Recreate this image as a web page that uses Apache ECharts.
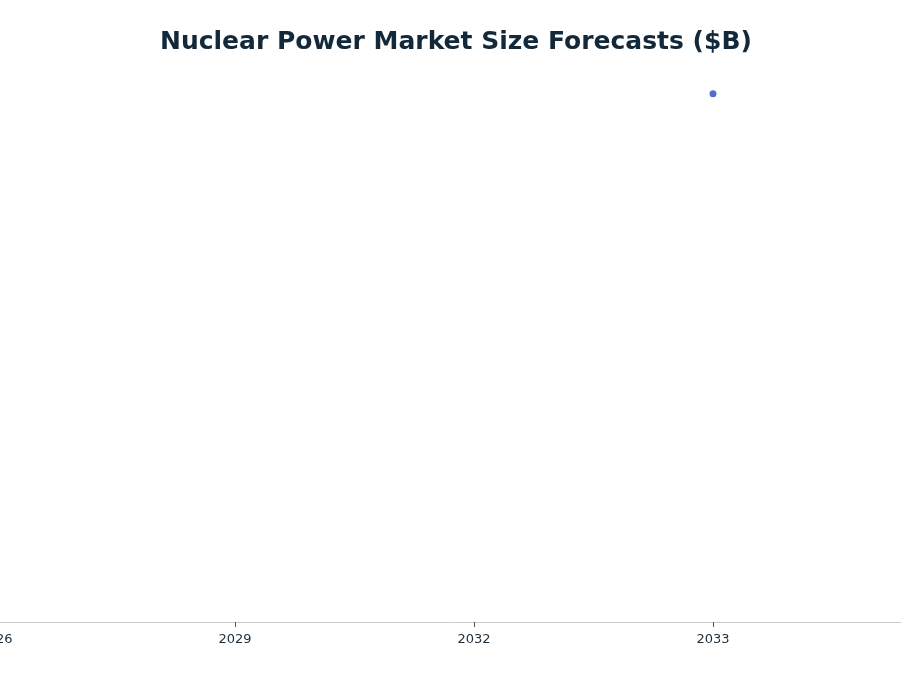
<!DOCTYPE html>
<html>
<head>
<meta charset="utf-8">
<script src="https://cdn.jsdelivr.net/npm/echarts@6/dist/echarts.min.js"></script>
<style>
  html, body { margin: 0; padding: 0; background: #fff; }
  #chart { width: 901px; height: 676px; }
</style>
</head>
<body>
<div id="chart"></div>
<script>
// forecast years on the axis
const years = ['2026', '2029', '2032', '2033', '2034'];
// market size ($B), only 2033 is shown in the picture
const marketSize = [null, null, null, 48.2, null];
const yMax = 50;

const chart = echarts.init(document.getElementById('chart'));
chart.setOption({
    title: {
        text: 'Nuclear Power Market Size Forecasts ($B)',
        left: 155,
        top: 25,
        textStyle: {
            fontFamily: 'DejaVu Sans',
            fontWeight: 'bold',
            fontSize: 25,
            color: '#13293a'
        }
    },
    grid: {
        left: -4,
        right: -51,
        top: 74,
        bottom: 54,
        containLabel: false,
        outerBoundsMode: 'none'
    },
    xAxis: {
        type: 'category',
        data: years,
        boundaryGap: false,
        axisLine: {lineStyle: {color: '#c8cccf'}},
        axisTick: {lineStyle: {color: '#555'}, length: 5},
        axisLabel: {
            fontFamily: 'DejaVu Sans',
            fontSize: 13,
            color: '#1f2d3a',
            margin: 11,
            showMinLabel: true
        }
    },
    yAxis: {
        type: 'value',
        min: 0,
        max: yMax,
        show: false,
        splitLine: {show: false}
    },
    series: [{
        type: 'line',
        data: marketSize,
        symbol: 'circle',
        symbolSize: 7,
        showSymbol: true,
        itemStyle: {color: '#5470c6'},
        lineStyle: {color: '#5470c6', width: 2}
    }]
});
</script>
</body>
</html>
